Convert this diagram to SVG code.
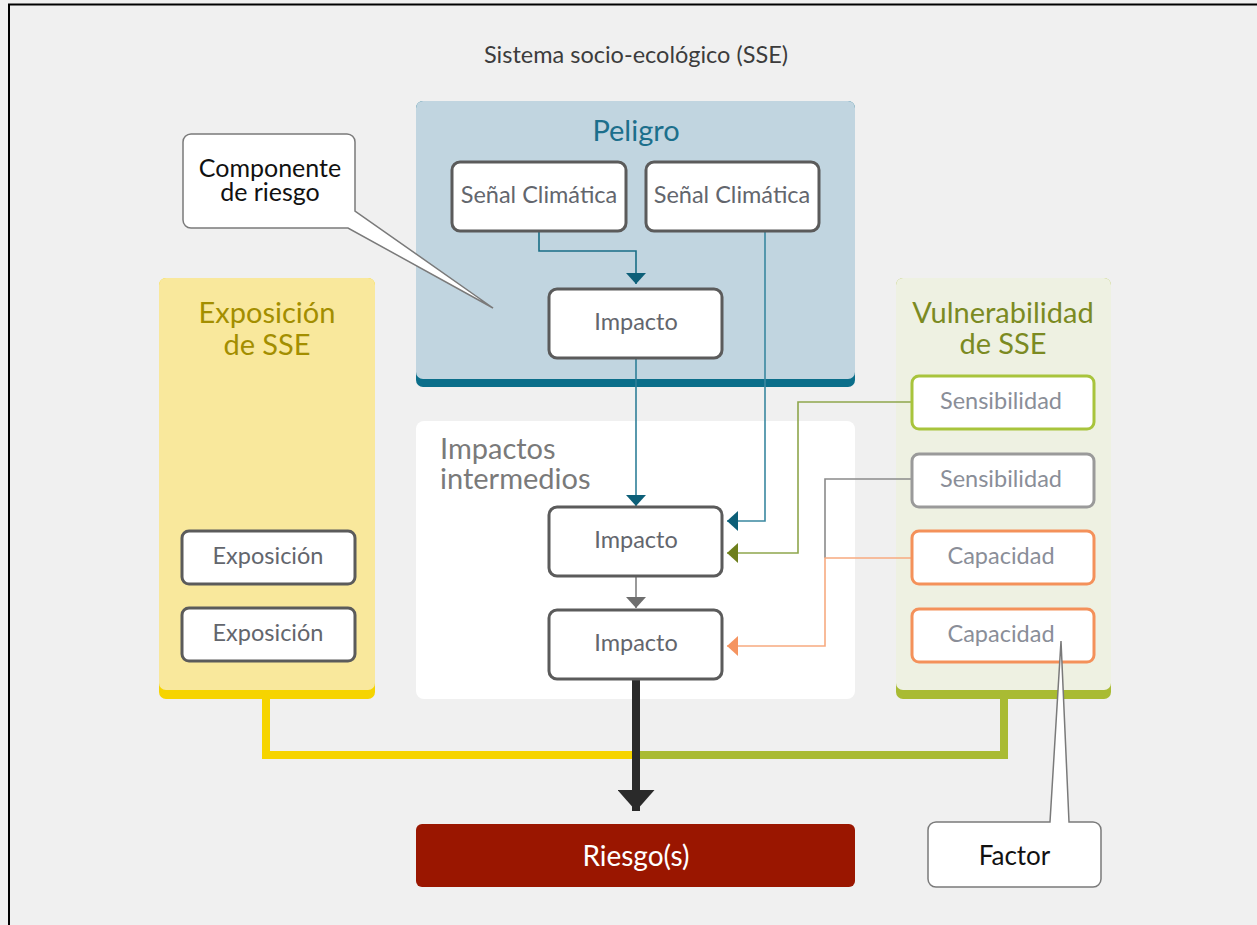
<svg xmlns="http://www.w3.org/2000/svg" width="1257" height="925" viewBox="0 0 1257 925">
<style>
text{font-family:Lato,"Open Sans","Noto Sans",sans-serif}
.box{fill:#fff;stroke:#5b5b5b;stroke-width:3}
.btxt{font-size:23.5px;fill:#63666d;text-anchor:middle}
.vtxt{font-size:23.5px;fill:#8a8e98;text-anchor:middle}
.ptitle{font-size:29px;text-anchor:middle}
.thin{fill:none;stroke-width:1.6}
.thick{fill:none;stroke-width:8;stroke-linejoin:miter;stroke-linecap:butt}
.callout{fill:#fff;stroke:#7a7a7a;stroke-width:1.5}
</style>
<defs>
<marker id="aTeal" markerUnits="userSpaceOnUse" viewBox="0 0 11 20" markerWidth="11" markerHeight="20" refX="11" refY="10" orient="auto"><path d="M0,0 L11,10 L0,20 Z" fill="#0d5f78"/></marker>
<marker id="aGreen" markerUnits="userSpaceOnUse" viewBox="0 0 11 20" markerWidth="11" markerHeight="20" refX="11" refY="10" orient="auto"><path d="M0,0 L11,10 L0,20 Z" fill="#6e7f1c"/></marker>
<marker id="aOrange" markerUnits="userSpaceOnUse" viewBox="0 0 11 20" markerWidth="11" markerHeight="20" refX="11" refY="10" orient="auto"><path d="M0,0 L11,10 L0,20 Z" fill="#f59460"/></marker>
<marker id="aGray" markerUnits="userSpaceOnUse" viewBox="0 0 11 20" markerWidth="11" markerHeight="20" refX="11" refY="10" orient="auto"><path d="M0,0 L11,10 L0,20 Z" fill="#6e6e6e"/></marker>
<marker id="aBlack" markerUnits="userSpaceOnUse" viewBox="0 0 21 37" markerWidth="21" markerHeight="37" refX="21" refY="18.5" orient="auto"><path d="M0,0 L21,18.5 L0,37 Z" fill="#2a2a2a"/></marker>
</defs>
<rect x="0" y="0" width="1257" height="925" fill="#f0f0f0"/>
<path d="M9,925 V4.5 H1257" fill="none" stroke="#000" stroke-width="2"/>
<text id="title" x="636" y="63" font-size="23.5px" fill="#3c3c3c" text-anchor="middle">Sistema socio-ecológico (SSE)</text>

<g id="panel-peligro">
<rect x="416" y="101" width="439" height="286" rx="7" fill="#0b6e8a"/>
<rect x="416" y="101" width="439" height="278" rx="7" fill="#c1d5e0"/>
<text x="636" y="141" class="ptitle" fill="#1c6f8c">Peligro</text>
</g>
<g id="panel-impactos">
<rect x="416" y="421" width="439" height="278" rx="8" fill="#fff"/>
<text font-size="29px" fill="#7a7a7a"><tspan x="440" y="459">Impactos</tspan><tspan x="440" y="489">intermedios</tspan></text>
</g>
<g id="panel-exposicion">
<rect x="159" y="278" width="216" height="421" rx="7" fill="#f6d400"/>
<rect x="159" y="278" width="216" height="412" rx="7" fill="#f9e89c"/>
<text class="ptitle" fill="#a38e00"><tspan x="267" y="323">Exposición</tspan><tspan x="267" y="355">de SSE</tspan></text>
</g>
<g id="panel-vulnerabilidad">
<rect x="896" y="278" width="215" height="421" rx="7" fill="#a9bb33"/>
<rect x="896" y="278" width="215" height="412" rx="7" fill="#eef1e2"/>
<text class="ptitle" fill="#7b8a22"><tspan x="1003" y="323">Vulnerabilidad</tspan><tspan x="1003" y="354">de SSE</tspan></text>
</g>

<g id="connectors">
<path class="thick" stroke="#f6d400" d="M266,699 V755 H636"/>
<path class="thick" stroke="#a9bb33" d="M1004,699 V755 H636"/>
<path class="thin" stroke="#1a6e86" d="M539,231 V251 H636 V284" marker-end="url(#aTeal)"/>
<path class="thin" stroke="#2f7f98" d="M636,358 V506" marker-end="url(#aTeal)"/>
<path class="thin" stroke="#3a88a0" d="M765,231 V521 H727" marker-end="url(#aTeal)"/>
<path class="thin" stroke="#8ea64c" d="M912,402 H798 V553 H727" marker-end="url(#aGreen)"/>
<path class="thin" stroke="#8a8a8a" d="M912,479 H825 V558"/>
<path class="thin" stroke="#f7ab80" d="M912,558 H825 V646 H727" marker-end="url(#aOrange)"/>
<path class="thin" stroke="#808080" d="M636,576 V608" marker-end="url(#aGray)"/>
<path fill="none" stroke="#2a2a2a" stroke-width="8" d="M636,679 V811" marker-end="url(#aBlack)"/>
</g>

<g id="senal1"><rect class="box" x="452" y="162" width="174" height="69" rx="8"/><text class="btxt" x="539" y="203">Señal Climática</text></g>
<g id="senal2"><rect class="box" x="646" y="162" width="173" height="69" rx="8"/><text class="btxt" x="732" y="203">Señal Climática</text></g>
<g id="impacto1"><rect class="box" x="549" y="289" width="173" height="69" rx="8"/><text class="btxt" x="636" y="330">Impacto</text></g>
<g id="impacto2"><rect class="box" x="549" y="507" width="173" height="69" rx="8"/><text class="btxt" x="636" y="548">Impacto</text></g>
<g id="impacto3"><rect class="box" x="549" y="610" width="173" height="69" rx="8"/><text class="btxt" x="636" y="651">Impacto</text></g>
<g id="exposicion1"><rect class="box" x="182" y="531" width="173" height="53" rx="7"/><text class="btxt" x="268" y="564">Exposición</text></g>
<g id="exposicion2"><rect class="box" x="182" y="608" width="173" height="53" rx="7"/><text class="btxt" x="268" y="641">Exposición</text></g>
<g id="sensibilidad1"><rect x="912" y="376" width="182" height="53" rx="7" fill="#fff" stroke="#a8c43c" stroke-width="3"/><text class="vtxt" x="1001" y="409">Sensibilidad</text></g>
<g id="sensibilidad2"><rect x="912" y="454" width="182" height="53" rx="7" fill="#fff" stroke="#9a9a9a" stroke-width="3"/><text class="vtxt" x="1001" y="487">Sensibilidad</text></g>
<g id="capacidad1"><rect x="912" y="531" width="182" height="53" rx="7" fill="#fff" stroke="#f4915a" stroke-width="3"/><text class="vtxt" x="1001" y="564">Capacidad</text></g>
<g id="capacidad2"><rect x="912" y="609" width="182" height="53" rx="7" fill="#fff" stroke="#f4915a" stroke-width="3"/><text class="vtxt" x="1001" y="642">Capacidad</text></g>

<g id="riesgo"><rect x="416" y="824" width="439" height="63" rx="6" fill="#9a1600"/><text x="636" y="866" font-size="28px" fill="#fff" text-anchor="middle">Riesgo(s)</text></g>

<g id="callout-componente">
<path class="callout" d="M191,134 H347 A8,8 0 0 1 355,142 V211 L493,308 L348,228 H191 A8,8 0 0 1 183,220 V142 A8,8 0 0 1 191,134 Z"/>
<text font-size="25px" fill="#111" text-anchor="middle"><tspan x="270" y="177">Componente</tspan><tspan x="270" y="201">de riesgo</tspan></text>
</g>
<g id="callout-factor">
<path class="callout" d="M936,822 H1050 L1061,641 L1069,822 H1093 A8,8 0 0 1 1101,830 V879 A8,8 0 0 1 1093,887 H936 A8,8 0 0 1 928,879 V830 A8,8 0 0 1 936,822 Z"/>
<text x="1014.5" y="865" font-size="26px" fill="#111" text-anchor="middle">Factor</text>
</g>
</svg>
